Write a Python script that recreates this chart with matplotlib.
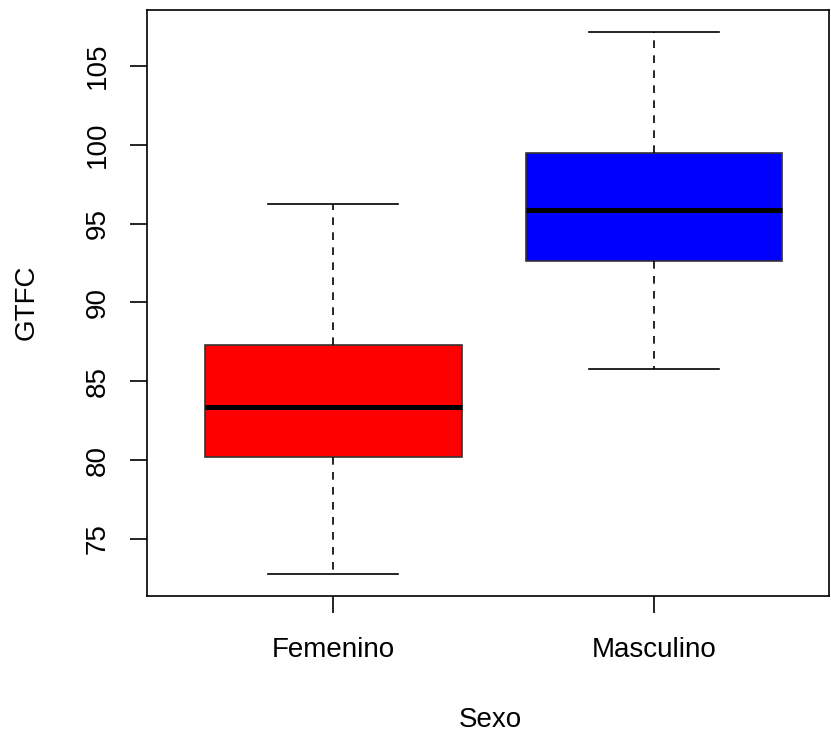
import matplotlib
matplotlib.use("Agg")
import matplotlib.pyplot as plt

categories = ["Femenino", "Masculino"]
whislo = [72.78, 85.78]
q1 = [80.2, 92.63]
med = [83.37, 95.86]
q3 = [87.3, 99.48]
whishi = [96.24, 107.15]
colors = ["#FF0000", "#0000FF"]
yticks = [75, 80, 85, 90, 95, 100, 105]

plt.rcParams['font.family'] = ['Liberation Sans', 'DejaVu Sans']

fig = plt.figure(figsize=(8.31, 7.38), dpi=100)
ax = fig.add_axes([147/831, 1-596/738, (829-147)/831, (596-10)/738])

stats = []
for i, c in enumerate(categories):
    stats.append(dict(label=c, whislo=whislo[i], q1=q1[i], med=med[i], q3=q3[i], whishi=whishi[i], fliers=[]))

lw = 1.2
bp = ax.bxp(stats, positions=[1, 2], widths=0.8, patch_artist=True, showfliers=False,
            boxprops=dict(linewidth=lw, edgecolor='#333333'),
            medianprops=dict(color='black', linewidth=3.6, solid_capstyle='butt'),
            whiskerprops=dict(color='black', linewidth=lw, linestyle=(0, (4.6, 4.4))),
            capprops=dict(color='black', linewidth=lw),
            capwidths=0.405)
for patch, col in zip(bp['boxes'], colors):
    patch.set_facecolor(col)

ax.set_xlim(0.419, 2.545)
ax.set_ylim(71.39, 108.54)
ax.set_yticks(yticks)
fs = 20
ax.set_yticklabels([str(v) for v in yticks], rotation=90, va='center', fontsize=fs)
ax.set_xticks([1, 2])
ax.set_xticklabels(categories, fontsize=fs)
ax.tick_params(axis='both', direction='out', length=12.2, width=lw, colors='black')
ax.tick_params(axis='y', pad=14)
ax.tick_params(axis='x', pad=17)
for s in ax.spines.values():
    s.set_linewidth(lw)
ax.set_ylabel("GTFC", fontsize=fs, va='center')
ax.set_xlabel("Sexo", fontsize=fs, va='center')
ax.yaxis.set_label_coords((27-147)/682, (596-302)/586)
ax.xaxis.set_label_coords((490-147)/682, (596-720)/586)

fig.savefig("out.png", dpi=100)
